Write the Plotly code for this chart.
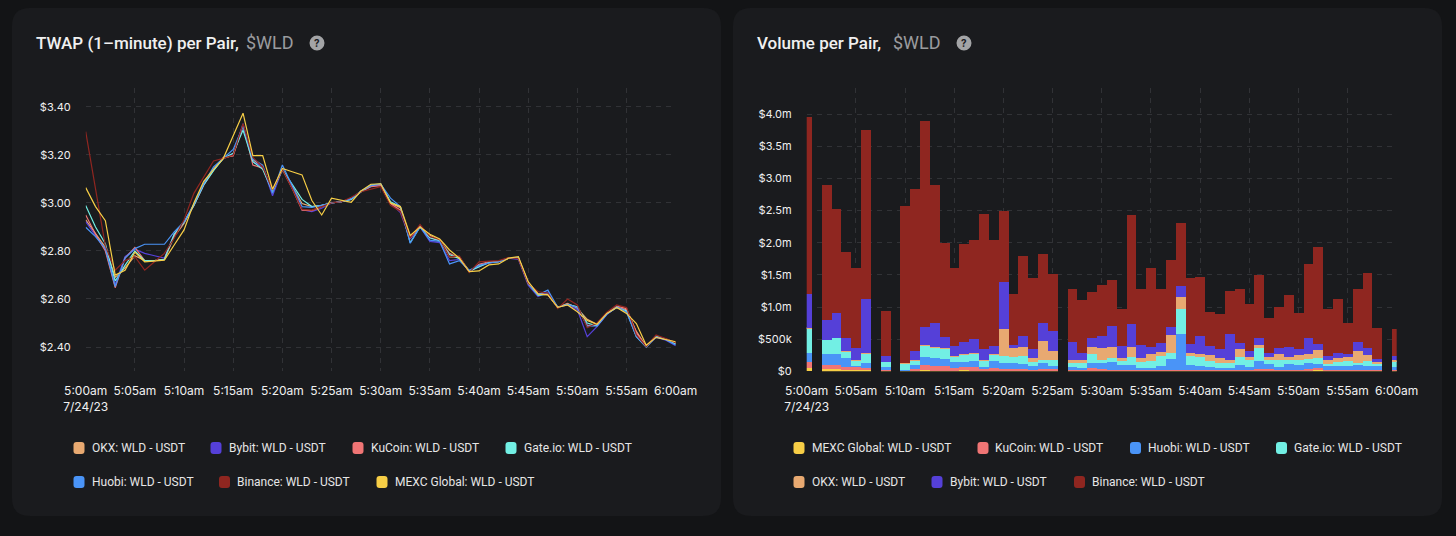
import pandas as pd
import plotly.graph_objects as go

W = 1456
H = 536

minutes = pd.date_range('2023-07-24 05:00', '2023-07-24 06:00', freq='1min').strftime('%Y-%m-%d %H:%M').tolist()

tick_times = ['2023-07-24 05:00', '2023-07-24 05:05', '2023-07-24 05:10', '2023-07-24 05:15',
              '2023-07-24 05:20', '2023-07-24 05:25', '2023-07-24 05:30', '2023-07-24 05:35',
              '2023-07-24 05:40', '2023-07-24 05:45', '2023-07-24 05:50', '2023-07-24 05:55',
              '2023-07-24 06:00']
tick_labels = ['5:00am<br>7/24/23', '5:05am', '5:10am', '5:15am', '5:20am', '5:25am', '5:30am',
               '5:35am', '5:40am', '5:45am', '5:50am', '5:55am', '6:00am']

price_ticks = [2.4, 2.6, 2.8, 3.0, 3.2, 3.4]
price_labels = ['$2.40', '$2.60', '$2.80', '$3.00', '$3.20', '$3.40']
volume_ticks = [0, 0.5, 1.0, 1.5, 2.0, 2.5, 3.0, 3.5, 4.0]
volume_labels = ['$0', '$500k', '$1.0m', '$1.5m', '$2.0m', '$2.5m', '$3.0m', '$3.5m', '$4.0m']

# TWAP per pair, one value a minute
twap_okx = [2.93, 2.875, 2.815, 2.69, 2.73, 2.78, 2.76, 2.76, 2.765, 2.86,
            2.915, 2.995, 3.08, 3.14, 3.186, 3.2, 3.325, 3.18, 3.15, 3.05,
            3.14, 3.07, 2.998, 2.985, 2.99, 3.0, 3.005, 3.016, 3.05, 3.07,
            3.078, 3.0, 2.98, 2.86, 2.9, 2.865, 2.845, 2.775, 2.775, 2.716,
            2.74, 2.75, 2.755, 2.77, 2.77, 2.668, 2.622, 2.62, 2.565, 2.582,
            2.56, 2.515, 2.495, 2.54, 2.565, 2.555, 2.465, 2.403, 2.445, 2.433,
            2.418]
twap_bybit = [2.922, 2.865, 2.805, 2.66, 2.776, 2.807, 2.79, 2.78, 2.77, 2.87,
              2.92, 2.99, 3.075, 3.14, 3.186, 3.205, 3.33, 3.172, 3.15, 3.03,
              3.14, 3.07, 2.972, 2.964, 2.978, 3.0, 3.005, 3.015, 3.047, 3.07,
              3.075, 3.0, 2.96, 2.85, 2.9, 2.84, 2.835, 2.76, 2.765, 2.716,
              2.735, 2.75, 2.755, 2.77, 2.765, 2.658, 2.61, 2.628, 2.565, 2.575,
              2.555, 2.443, 2.485, 2.535, 2.565, 2.55, 2.45, 2.402, 2.44, 2.428,
              2.405]
twap_kucoin = [2.95, 2.87, 2.8, 2.647, 2.77, 2.815, 2.76, 2.76, 2.765, 2.865,
               2.92, 2.99, 3.075, 3.137, 3.19, 3.196, 3.325, 3.158, 3.145, 3.05,
               3.14, 3.06, 2.97, 2.968, 2.985, 3.002, 3.005, 3.018, 3.047, 3.068,
               3.072, 2.998, 2.97, 2.855, 2.905, 2.855, 2.845, 2.79, 2.77, 2.714,
               2.745, 2.755, 2.757, 2.77, 2.77, 2.665, 2.62, 2.618, 2.565, 2.58,
               2.565, 2.49, 2.49, 2.54, 2.57, 2.56, 2.46, 2.402, 2.443, 2.432,
               2.415]
twap_gate = [2.989, 2.9, 2.83, 2.675, 2.74, 2.8, 2.76, 2.76, 2.765, 2.87,
             2.92, 2.99, 3.075, 3.135, 3.186, 3.207, 3.304, 3.172, 3.14, 3.047,
             3.14, 3.08, 3.015, 2.985, 2.99, 3.0, 3.005, 3.015, 3.047, 3.075,
             3.08, 3.005, 2.985, 2.835, 2.9, 2.855, 2.842, 2.785, 2.768, 2.716,
             2.735, 2.752, 2.755, 2.77, 2.772, 2.665, 2.615, 2.62, 2.565, 2.578,
             2.568, 2.5, 2.488, 2.538, 2.565, 2.55, 2.443, 2.4, 2.443, 2.432,
             2.412]
twap_huobi = [2.899, 2.86, 2.81, 2.652, 2.77, 2.81, 2.828, 2.828, 2.828, 2.88,
              2.922, 2.995, 3.08, 3.15, 3.186, 3.223, 3.32, 3.183, 3.158, 3.04,
              3.158, 3.07, 2.985, 2.982, 2.992, 3.0, 3.005, 3.018, 3.05, 3.072,
              3.078, 3.02, 2.985, 2.832, 2.9, 2.845, 2.84, 2.746, 2.76, 2.72,
              2.74, 2.75, 2.755, 2.77, 2.772, 2.668, 2.618, 2.637, 2.565, 2.578,
              2.565, 2.487, 2.488, 2.537, 2.568, 2.545, 2.443, 2.4, 2.443, 2.43,
              2.408]
twap_binance = [3.297, 3.05, 2.82, 2.72, 2.76, 2.776, 2.72, 2.755, 2.79, 2.853,
                2.93, 3.04, 3.107, 3.175, 3.186, 3.2, 3.33, 3.19, 3.15, 3.054,
                3.14, 3.06, 2.973, 2.97, 2.985, 3.0, 3.005, 3.024, 3.047, 3.058,
                3.068, 2.99, 2.965, 2.855, 2.91, 2.86, 2.848, 2.776, 2.78, 2.71,
                2.755, 2.758, 2.76, 2.772, 2.768, 2.665, 2.63, 2.625, 2.56, 2.6,
                2.575, 2.48, 2.5, 2.545, 2.575, 2.565, 2.45, 2.402, 2.45, 2.435,
                2.418]
twap_mexc = [3.064, 2.985, 2.926, 2.7, 2.72, 2.795, 2.755, 2.76, 2.762, 2.825,
             2.888, 3.0, 3.09, 3.14, 3.186, 3.28, 3.374, 3.197, 3.197, 3.057,
             3.144, 3.13, 3.117, 3.01, 2.95, 3.02, 3.012, 3.003, 3.05, 3.078,
             3.08, 3.0, 2.985, 2.865, 2.9, 2.87, 2.85, 2.804, 2.77, 2.714,
             2.717, 2.742, 2.746, 2.77, 2.776, 2.672, 2.62, 2.617, 2.565, 2.575,
             2.547, 2.51, 2.495, 2.54, 2.565, 2.54, 2.498, 2.407, 2.44, 2.432,
             2.422]

# volume per pair in $m, None where a minute has no bar
vol_mexc = [.05, None, .03, .03, .02, .015, .02, None, .01, None,
            .005, .01, .015, .01, .01, .01, .015, .01, .01, .01,
            .01, .01, .01, .01, .01, .005, None, .01, .005, .01,
            .01, .01, .005, .005, .005, .005, .005, .005, .005, .005,
            .005, .005, .005, .005, .005, .005, .005, .005, .005, .005,
            .005, .01, .02, .005, .005, .005, .005, .005, .005, None,
            .005]
vol_kucoin = [.10, None, .07, .07, .05, .055, .035, None, .01, None,
              .01, .02, .085, .08, .073, .037, .055, .05, .025, .045,
              .02, .02, .02, .01, .02, .025, None, .01, .01, .037,
              .02, .01, .01, .01, .01, .025, .01, .01, .01, .01,
              .02, .01, .01, .01, .01, .01, .025, .025, .01, .01,
              .01, .02, .037, .01, .01, .01, .01, .01, .01, None,
              .01]
vol_huobi = [.13, None, .165, .175, .14, .02, .07, None, .05, None,
             .005, .07, .12, .11, .107, .093, .08, .105, .035, .11,
             .095, .095, .085, .065, .095, .055, None, .05, .042, .078,
             .095, .13, .085, .085, .032, .027, .075, .172, .565, .085,
             .065, .055, .042, .032, .085, .055, .13, .08, .055, .095,
             .085, .095, .053, .075, .075, .075, .085, .075, .07, None,
             .055]
vol_gate = [.39, None, .225, .245, .105, .075, .155, None, .08, None,
            .10, .065, .175, .175, .17, .09, .115, .105, .095, .09,
            .115, .105, .125, .065, .05, .09, None, .055, .068, .14,
            .05, .05, .06, .12, .093, .103, .15, .103, .39, .14,
            .14, .09, .068, .078, .12, .105, .2, .065, .105, .065,
            .075, .062, .09, .025, .06, .07, .035, .075, .04, None,
            .09]
vol_okx = [.01, None, 0, 0, .005, .01, .01, None, 0, None,
           .01, .01, .015, .01, .01, .01, .005, .01, .01, .01,
           .42, .13, .145, .06, .30, .14, None, .05, .05, .12,
           .185, .18, .05, .165, .06, .115, .065, .275, .19, .05,
           .04, .095, .075, .05, .12, .055, .045, .055, .09, .05,
           .08, .083, .13, .055, .06, .07, .18, .09, .025, None,
           .01]
vol_bybit = [.52, None, .31, .385, .2, .18, .835, None, .095, None,
             .005, .14, .285, .36, .17, .155, .19, .22, .175, .13,
             .725, .05, .17, .14, .28, .315, None, .28, .105, .14,
             .19, .325, .185, .355, .205, .11, .135, .13, .165, .14,
             .28, .135, .14, .41, .10, .085, .115, .055, .09, .155,
             .085, .255, .10, .07, .08, .045, .14, .105, .04, None,
             .065]
vol_binance = [2.76, None, 2.09, 1.615, 1.34, 1.255, 2.625, None, .695, None,
               2.435, 2.525, 3.205, 2.155, 1.46, 1.215, 1.52, 1.54, 2.095, 1.645,
               1.105, .79, 1.235, 1.105, 1.07, .89, None, .83, .83, .715,
               .79, .715, .575, 1.69, .88, 1.225, .845, 1.035, .98, 1.025,
               .915, .54, .545, .66, .835, .73, .98, .545, .645, .805,
               .565, 1.145, 1.51, .73, .835, .48, .82, 1.175, .485, None,
               .425]

OKX = '#e8a971'
BYBIT = '#5540d8'
KUCOIN = '#f07575'
GATE = '#72efe4'
HUOBI = '#4a94f7'
BINANCE = '#8f2620'
MEXC = '#f7ce46'

PAGE = '#131416'
CARD = '#1a1b1e'
GRID = '#313236'
TEXT = '#f0f0f0'
MUTED = '#9a9b9e'
FONT = 'Inter'
HEAD_FONT = 'Roboto'


def px(x):
    return x / W


def py(y):
    return 1 - y / H


def card(x0, y0, x1, y1, r):
    path = (f'M {px(x0 + r)},{py(y0)} L {px(x1 - r)},{py(y0)} Q {px(x1)},{py(y0)} {px(x1)},{py(y0 + r)} '
            f'L {px(x1)},{py(y1 - r)} Q {px(x1)},{py(y1)} {px(x1 - r)},{py(y1)} '
            f'L {px(x0 + r)},{py(y1)} Q {px(x0)},{py(y1)} {px(x0)},{py(y1 - r)} '
            f'L {px(x0)},{py(y0 + r)} Q {px(x0)},{py(y0)} {px(x0 + r)},{py(y0)} Z')
    return dict(type='path', path=path, xref='paper', yref='paper', fillcolor=CARD,
                line=dict(width=0), layer='below')


def label(x, y, text, size=12, color=TEXT, anchor='left', family=HEAD_FONT, weight=400):
    return dict(x=px(x), y=py(y), xref='paper', yref='paper', text=text, showarrow=False,
                xanchor=anchor, yanchor='middle', xshift=-1,
                font=dict(family=family, size=size, color=color, weight=weight))


fig = go.Figure()

for name, values, color in [('OKX: WLD - USDT', twap_okx, OKX),
                            ('Bybit: WLD - USDT', twap_bybit, BYBIT),
                            ('KuCoin: WLD - USDT', twap_kucoin, KUCOIN),
                            ('Gate.io: WLD - USDT', twap_gate, GATE),
                            ('Huobi: WLD - USDT', twap_huobi, HUOBI),
                            ('Binance: WLD - USDT', twap_binance, BINANCE),
                            ('MEXC Global: WLD - USDT', twap_mexc, MEXC)]:
    fig.add_trace(go.Scatter(x=minutes, y=values, name=name, mode='lines', xaxis='x', yaxis='y',
                             line=dict(color=color, width=1.2), connectgaps=True))

for name, values, color in [('MEXC Global: WLD - USDT', vol_mexc, MEXC),
                            ('KuCoin: WLD - USDT', vol_kucoin, KUCOIN),
                            ('Huobi: WLD - USDT', vol_huobi, HUOBI),
                            ('Gate.io: WLD - USDT', vol_gate, GATE),
                            ('OKX: WLD - USDT', vol_okx, OKX),
                            ('Bybit: WLD - USDT', vol_bybit, BYBIT),
                            ('Binance: WLD - USDT', vol_binance, BINANCE)]:
    fig.add_trace(go.Bar(x=minutes, y=values, name=name, xaxis='x2', yaxis='y2',
                         marker=dict(color=color, line=dict(width=0))))

x_axis = dict(type='date', range=['2023-07-24 05:00', '2023-07-24 06:00'], tickmode='array',
              tickvals=tick_times, ticktext=tick_labels, showgrid=True, gridcolor=GRID, griddash='5px,5px',
              gridwidth=1, zeroline=False, showline=False, ticks='', ticklabelstandoff=11, tickangle=0,
              tickfont=dict(family=FONT, size=12, color=TEXT))
y_axis = dict(showgrid=True, gridcolor=GRID, griddash='5px,5px', gridwidth=1, zeroline=False, showline=False,
              ticks='', ticklabelstandoff=14, tickfont=dict(family=FONT, size=11, color=TEXT), tickmode='array')

shapes = [card(12, 8, 721, 516, 18), card(733, 8, 1442, 516, 18)]
annotations = [label(35, 43, 'TWAP (1–minute) per Pair,', 17, weight=500), label(245, 43, '$WLD', 18, MUTED),
               label(756, 43, 'Volume per Pair,', 17, weight=500), label(892, 43, '$WLD', 18, MUTED)]

# help icons next to the titles
for cx in [317, 964]:
    shapes.append(dict(type='circle', xref='paper', yref='paper', x0=px(cx - 7.5), x1=px(cx + 7.5),
                       y0=py(50.5), y1=py(35.5), fillcolor='#a3a4a6', line=dict(width=0), layer='below'))
    annotations.append(label(cx + 1, 43, '<b>?</b>', 10, CARD, 'center', FONT))

legend_items = [(79, 90.5, 448, 'OKX: WLD - USDT', OKX), (216, 228, 448, 'Bybit: WLD - USDT', BYBIT),
                (358, 370, 448, 'KuCoin: WLD - USDT', KUCOIN), (511, 523, 448, 'Gate.io: WLD - USDT', GATE),
                (79, 90.5, 482, 'Huobi: WLD - USDT', HUOBI), (224.5, 236, 482, 'Binance: WLD - USDT', BINANCE),
                (382, 393.5, 482, 'MEXC Global: WLD - USDT', MEXC),
                (799, 811, 448, 'MEXC Global: WLD - USDT', MEXC), (983, 994, 448, 'KuCoin: WLD - USDT', KUCOIN),
                (1135.5, 1147, 448, 'Huobi: WLD - USDT', HUOBI), (1281.5, 1293, 448, 'Gate.io: WLD - USDT', GATE),
                (799, 811, 482, 'OKX: WLD - USDT', OKX), (937, 948.5, 482, 'Bybit: WLD - USDT', BYBIT),
                (1079.5, 1090.5, 482, 'Binance: WLD - USDT', BINANCE)]
for sx, tx, ly, text, color in legend_items:
    sw = card(sx - 5.5, ly - 6, sx + 5.5, ly + 6, 3)
    sw['fillcolor'] = color
    shapes.append(sw)
    annotations.append(label(tx, ly, text, 12, '#e6e6e6'))

fig.update_layout(
    width=W, height=H, margin=dict(l=0, r=0, t=0, b=0, autoexpand=False), showlegend=False,
    paper_bgcolor=PAGE, plot_bgcolor='rgba(0,0,0,0)', barmode='stack', bargap=0,
    xaxis=dict(x_axis, domain=[px(85.7), px(675.7)], anchor='y'),
    yaxis=dict(y_axis, domain=[py(371), py(88)], anchor='x', range=[2.3, 3.479],
               tickvals=price_ticks, ticktext=price_labels),
    xaxis2=dict(x_axis, domain=[px(806.7), px(1396.7)], anchor='y2'),
    yaxis2=dict(y_axis, domain=[py(371.3), py(88)], anchor='x2', range=[0, 4.406],
                tickvals=volume_ticks, ticktext=volume_labels),
    shapes=shapes, annotations=annotations,
)

fig.write_html('out.html', config={'displayModeBar': False},
               post_script="document.body.style.margin='0';document.body.style.background='#131416';")
